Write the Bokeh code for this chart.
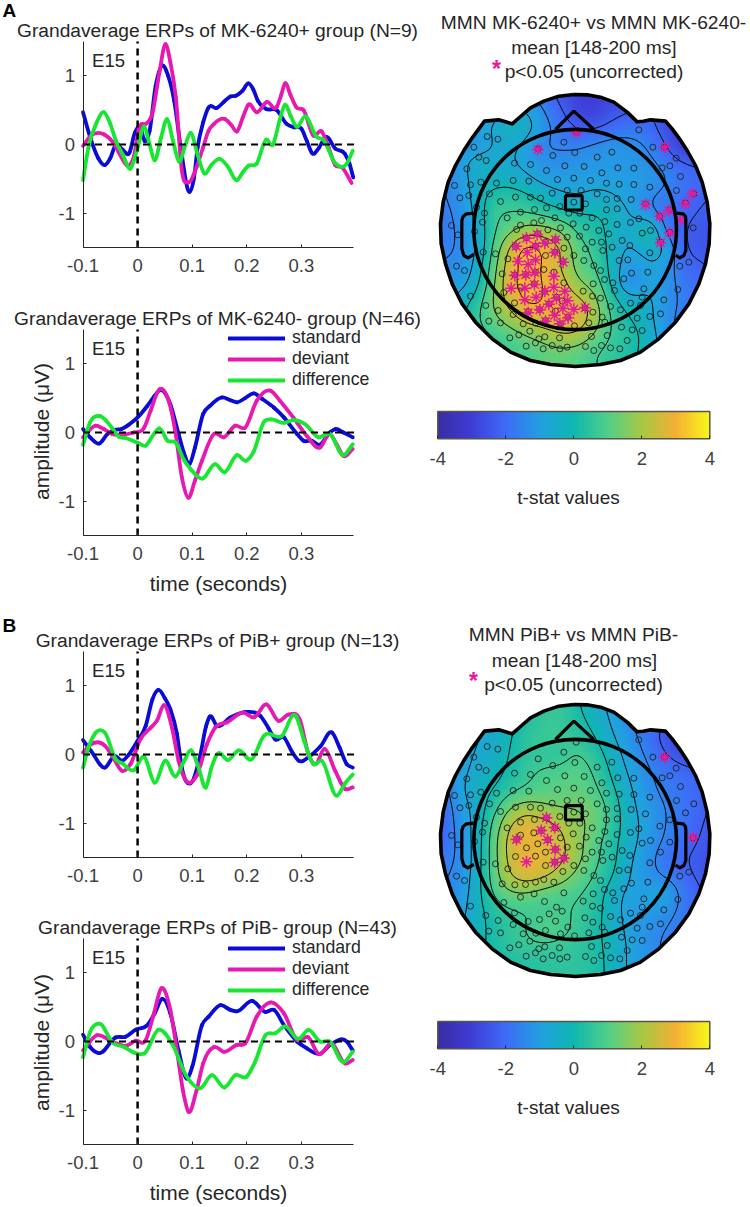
import numpy as np
from bokeh.embed import file_html
from bokeh.resources import INLINE
from bokeh.plotting import figure
from bokeh.layouts import column, row
from bokeh.models import Label, Legend, LegendItem, FixedTicker, LinearColorMapper, Range1d

# ---------- ERP data (time in s, amplitude in uV) ----------
a1_std_t = [-0.1,-0.085,-0.072,-0.06,-0.05,-0.04,-0.028,-0.015,-0.005,0.005,0.013,0.022,0.033,0.045,0.056,0.067,0.08,0.095,0.103,0.11,0.12,0.13,0.145,0.158,0.17,0.18,0.192,0.203,0.212,0.22,0.235,0.255,0.273,0.287,0.3,0.31,0.32,0.332,0.345,0.362,0.38,0.388,0.395]
a1_std_v = [0.47,0.06,-0.2,-0.3,-0.2,0.0,-0.07,-0.12,0.17,0.25,0.05,0.2,0.85,1.15,1.0,0.64,-0.1,-0.69,-0.5,-0.04,0.32,0.54,0.53,0.62,0.7,0.71,0.78,0.89,0.8,0.64,0.52,0.5,0.3,0.25,0.23,0.05,-0.13,-0.05,0.11,-0.06,-0.14,-0.28,-0.48]
a1_dev_t = [-0.1,-0.085,-0.062,-0.045,-0.03,-0.02,-0.007,0.003,0.015,0.027,0.04,0.051,0.06,0.07,0.081,0.093,0.108,0.12,0.13,0.14,0.16,0.172,0.182,0.193,0.203,0.218,0.237,0.255,0.263,0.27,0.28,0.291,0.304,0.322,0.337,0.35,0.362,0.374,0.392]
a1_dev_v = [-0.02,0.13,0.15,0.03,-0.18,-0.3,-0.18,0.25,0.3,0.45,1.05,1.46,1.2,0.69,-0.38,-0.55,-0.33,-0.04,0.2,0.3,0.37,0.28,0.19,0.4,0.58,0.47,0.62,0.55,0.72,0.89,0.72,0.54,0.5,0.13,0.19,-0.05,-0.3,-0.33,-0.56]
a1_dif_t = [-0.1,-0.09,-0.075,-0.062,-0.05,-0.04,-0.027,-0.013,0.0,0.012,0.022,0.031,0.043,0.054,0.065,0.076,0.087,0.097,0.11,0.122,0.135,0.15,0.165,0.182,0.193,0.203,0.218,0.235,0.248,0.26,0.27,0.28,0.291,0.307,0.328,0.34,0.362,0.383,0.394]
a1_dif_v = [-0.52,-0.04,0.32,0.47,0.3,0.06,-0.15,-0.35,-0.05,0.26,0.0,-0.23,0.1,0.37,0.05,-0.25,-0.02,0.17,-0.15,-0.42,-0.3,-0.21,-0.32,-0.52,-0.4,-0.31,-0.28,0.07,0.0,0.35,0.58,0.42,0.26,0.41,0.11,0.07,-0.27,-0.28,-0.09]

a2_std_t = [-0.1,-0.087,-0.07,-0.055,-0.04,-0.03,-0.015,0.0,0.018,0.03,0.042,0.06,0.075,0.085,0.095,0.105,0.12,0.133,0.155,0.17,0.182,0.197,0.213,0.228,0.25,0.268,0.292,0.304,0.319,0.333,0.352,0.362,0.377,0.394]
a2_std_v = [0.05,-0.07,-0.16,-0.02,0.04,0.05,0.12,0.22,0.39,0.52,0.62,0.41,-0.02,-0.3,-0.46,-0.22,0.27,0.39,0.51,0.47,0.44,0.5,0.57,0.49,0.36,0.22,-0.02,-0.12,-0.12,-0.18,0.0,0.05,0.0,-0.07]
a2_dev_t = [-0.1,-0.077,-0.062,-0.047,-0.03,-0.007,0.012,0.024,0.04,0.057,0.069,0.081,0.093,0.105,0.118,0.14,0.158,0.179,0.197,0.218,0.243,0.261,0.285,0.31,0.334,0.352,0.365,0.377,0.394]
a2_dev_v = [-0.07,0.1,0.05,-0.02,-0.03,0.0,0.07,0.32,0.63,0.46,0.02,-0.65,-0.95,-0.7,-0.41,-0.02,-0.07,0.1,0.07,0.46,0.61,0.46,0.22,-0.05,-0.22,-0.02,-0.18,-0.34,-0.24]
a2_dif_t = [-0.1,-0.087,-0.07,-0.047,-0.035,-0.022,0.0,0.015,0.03,0.04,0.055,0.07,0.085,0.097,0.119,0.142,0.159,0.182,0.199,0.213,0.231,0.245,0.268,0.285,0.307,0.331,0.352,0.377,0.394]
a2_dif_v = [-0.18,0.15,0.24,0.07,-0.06,-0.08,-0.15,-0.19,-0.02,0.06,-0.12,-0.15,-0.4,-0.53,-0.67,-0.46,-0.58,-0.33,-0.41,-0.27,0.15,0.19,0.14,0.18,0.12,-0.07,-0.02,-0.33,-0.17]

b1_std_t = [-0.1,-0.085,-0.06,-0.042,-0.028,-0.016,0.0,0.015,0.027,0.038,0.05,0.06,0.072,0.081,0.097,0.115,0.125,0.132,0.145,0.17,0.2,0.225,0.24,0.252,0.268,0.282,0.295,0.316,0.335,0.356,0.37,0.383,0.394]
b1_std_v = [0.21,0.05,-0.19,-0.02,-0.09,0.0,0.2,0.42,0.8,0.94,0.82,0.66,0.3,-0.19,-0.42,0.0,0.4,0.55,0.42,0.54,0.62,0.56,0.38,0.22,0.25,0.05,-0.09,-0.02,0.12,0.32,0.1,-0.14,-0.19]
b1_dev_t = [-0.1,-0.085,-0.06,-0.045,-0.028,-0.013,0.005,0.024,0.036,0.048,0.063,0.075,0.087,0.108,0.127,0.142,0.164,0.194,0.213,0.236,0.258,0.276,0.298,0.313,0.325,0.343,0.362,0.38,0.394]
b1_dev_v = [0.03,0.15,0.13,-0.04,-0.24,-0.14,0.22,0.39,0.5,0.72,0.39,-0.09,-0.36,-0.31,0.15,0.39,0.47,0.61,0.54,0.73,0.49,0.58,0.49,0.0,-0.14,0.08,-0.24,-0.5,-0.48]
b1_dif_t = [-0.1,-0.09,-0.06,-0.04,-0.028,-0.007,0.012,0.031,0.051,0.069,0.085,0.098,0.112,0.125,0.135,0.145,0.166,0.185,0.209,0.231,0.264,0.29,0.305,0.322,0.337,0.365,0.38,0.394]
b1_dif_v = [-0.19,0.1,0.32,-0.07,-0.13,-0.23,-0.03,-0.41,-0.09,-0.32,-0.1,0.06,-0.2,-0.48,-0.2,0.0,-0.08,0.06,-0.07,0.27,0.27,0.56,0.2,-0.14,-0.09,-0.6,-0.42,-0.29]

b2_std_t = [-0.1,-0.087,-0.07,-0.04,-0.022,-0.004,0.018,0.032,0.045,0.06,0.075,0.09,0.1,0.118,0.13,0.152,0.17,0.182,0.21,0.234,0.25,0.268,0.292,0.31,0.333,0.356,0.383,0.394]
b2_std_v = [0.1,-0.08,-0.17,0.06,0.07,0.17,0.24,0.42,0.62,0.41,-0.13,-0.54,-0.37,0.24,0.36,0.53,0.46,0.44,0.59,0.43,0.46,0.24,0.0,-0.1,-0.18,-0.03,0.0,-0.13]
b2_dev_t = [-0.1,-0.075,-0.047,-0.02,-0.004,0.015,0.03,0.043,0.06,0.072,0.083,0.093,0.108,0.12,0.14,0.158,0.182,0.197,0.218,0.244,0.268,0.292,0.313,0.331,0.356,0.38,0.394]
b2_dev_v = [-0.13,0.09,0.0,-0.06,0.01,0.02,0.41,0.77,0.46,-0.13,-0.71,-1.02,-0.71,-0.32,-0.08,-0.15,-0.05,-0.03,0.36,0.57,0.41,0.02,0.06,-0.18,-0.03,-0.32,-0.27]
b2_dif_t = [-0.1,-0.087,-0.07,-0.045,-0.025,-0.004,0.013,0.038,0.063,0.09,0.115,0.136,0.159,0.179,0.2,0.215,0.234,0.252,0.27,0.295,0.313,0.334,0.352,0.377,0.394]
b2_dif_v = [-0.23,0.14,0.26,-0.02,-0.08,-0.17,-0.17,0.17,-0.03,-0.51,-0.68,-0.49,-0.67,-0.49,-0.51,-0.3,0.09,0.12,0.22,0.04,0.17,0.0,0.0,-0.3,-0.15]

x_lim = [-0.1, 0.3963]
y_lim = [-1.5, 1.5]
x_ticks = [-0.1, 0, 0.1, 0.2, 0.3]
y_ticks = [-1, 0, 1]
series_names = ["standard", "deviant", "difference"]
series_colors = ["#0b0bd6", "#e619b0", "#19e632"]
panel_titles = ["Grandaverage ERPs of MK-6240+ group (N=9)", "Grandaverage ERPs of MK-6240- group (N=46)",
                "Grandaverage ERPs of PiB+ group (N=13)", "Grandaverage ERPs of PiB- group (N=43)"]

# ---------- t-stat maps ----------
map_cols = [50,102,154,206,258,310,362,414,466,518,570,622,674,726,778,830,882]
map_rows = [30,82,134,186,238,290,342,394,446,498,550,602,654,706,758,810,862]
tmap_a = [
[-1.5,-1.5,-1.5,-1.5,-1.5,-1.5,-2,-2.5,-3,-3,-2.8,-2.5,-2.5,-2.5,-2.5,-2.5,-2.5],
[-1.5,-1.5,-1.3,-1,-0.8,-0.6,-1.5,-2.2,-3,-3,-2.5,-2.3,-2.2,-2.5,-2.8,-2.5,-2.5],
[-1.5,-1.2,-1,-0.7,-0.2,-0.3,-1.2,-1.8,-2.4,-2.4,-2,-1.8,-2,-2.6,-3.2,-3,-2.5],
[-1.8,-1.5,-1.3,-0.8,-0.5,-1,-1.6,-1.6,-1.6,-1.3,-1.1,-1.2,-1.5,-2.2,-3.3,-3,-2.5],
[-1.6,-1.2,-0.3,-0.5,-0.7,-1,-1.3,-1.3,-1.2,-1.1,-1.2,-1.2,-1.3,-1.7,-2.2,-2.4,-2.4],
[-1.6,-1.3,-0.4,-0.4,-0.3,-0.6,-1,-1,-1,-1,-1,-1,-1,-1.4,-1.8,-2,-2.3],
[-1.6,-1.3,-0.6,0.4,0.5,0.2,-0.3,-0.7,-0.8,-0.5,-0.7,-1,-1.5,-1.7,-1.9,-2.2,-2.3],
[-1.8,-1.4,-0.8,0.7,0.8,0.8,0.6,0.3,0,0.1,-0.2,-0.8,-1.4,-1.8,-2.1,-2.3,-2.4],
[-1.8,-1.5,-0.9,0.6,1.3,2,2,1.6,0.6,0.2,-0.2,-0.7,0.9,-1.8,-2.2,-2.5,-2.6],
[-1.7,-1.5,-1,0.7,2.5,3.6,3.0,2.4,1,0.6,-0.4,-1,-0.4,-0.5,-2.3,-2.4,-2.5],
[-1.4,-1.4,-0.8,1,2.8,3.2,3,2.2,1.1,0.8,-0.4,-1.3,-0.8,-1,-2,-2.2,-2.3],
[-1.2,-1.2,-0.5,1.2,3,3.2,3,2.7,1.5,1.2,-0.3,-1.8,-0.8,-1.2,-1.7,-2,-2.2],
[-0.7,-0.6,0.2,1.5,2.6,3.2,3,2.8,2.6,1.8,0.2,-0.4,-0.5,-1.2,-1.6,-1.9,-2],
[-0.5,-0.2,0.6,1.3,1.9,2.7,2.8,3,2.8,2,0.5,0,-0.5,-1.3,-1.7,-1.9,-2],
[0,0.2,0.4,0.7,1,1.4,1.8,2.2,2.2,1.3,0.6,0.4,-0.3,-1.2,-1.8,-2,-2],
[0,0.2,0.4,0.6,0.7,0.9,1.1,1.2,1,0.7,0.5,0.2,-0.3,-1,-1.6,-1.8,-2],
[0,0.2,0.4,0.6,0.8,1,1.2,1.3,1.1,0.8,0.5,0.2,-0.3,-1,-1.6,-1.8,-2],
]
tmap_b = [
[-1.2,-1.2,-1,-0.8,-0.4,0.1,0.6,0.7,0,-0.5,-1,-1.6,-1.9,-2,-2.2,-2.2,-2.2],
[-1.3,-1.2,-1,-0.6,-0.2,0.3,0.6,0.6,0.2,-0.3,-0.9,-1.5,-1.9,-2.2,-2.6,-2.5,-2.3],
[-1.4,-1.2,-0.8,-0.6,-0.1,0.5,0.7,0.8,0.5,0,-0.7,-1.3,-1.8,-2.6,-3.3,-3,-2.5],
[-1.6,-1.1,-0.7,-0.5,0,0.6,0.4,0.4,0.9,0.4,-0.4,-1.1,-1.6,-2.2,-2.6,-2.6,-2.4],
[-1.8,-1,-0.6,-0.3,0.1,0.6,0.9,1,1.1,0.7,-0.2,-0.9,-1.4,-1.8,-2,-2.2,-2.3],
[-2,-1,-0.3,-0.1,0.5,0.8,1,1.1,1.2,0.9,0.1,-0.7,-1.3,-1.7,-1.8,-2.1,-2.4],
[-2.2,-1.2,-0.6,0.3,1.5,1.9,1.6,1.4,1.5,1.3,0.4,-0.6,-1.1,-1.5,-1.8,-2.1,-2.4],
[-2.3,-1.3,-0.7,0.8,2.3,2.9,2.6,2.2,1.6,1.4,0.4,-0.5,-1,-1.5,-1.8,-2.2,-2.5],
[-2.2,-1.4,-0.7,1,2.7,2.9,2.7,2.5,1.7,1,0.2,-0.5,-1.1,-1.6,-1.9,-2.3,-2.6],
[-1.8,-1.5,-0.7,1,2.6,2.9,2.8,2.5,1.7,0.9,0.2,-0.7,-1.3,-1.9,-2.2,-2.5,-2.7],
[-1.6,-1.4,-0.6,1,2.3,2.8,2.5,1.9,1.2,0.7,0,-0.8,-1.3,-1.6,-2,-2.4,-2.6],
[-1.5,-1.3,-0.5,0.8,1.4,1.4,1,0.9,0.8,0.4,-0.5,-1,-0.9,-0.6,-1.7,-2.2,-2.5],
[-1.4,-1.1,-0.4,0.3,0.6,0.7,0.7,0.8,0.7,0.3,-0.5,-1.1,-1,-1.2,-1.7,-2.2,-2.4],
[-1.2,-1,-0.4,0.2,0.5,0.8,1.1,1,0.6,0.2,-0.4,-1,-1.3,-1.5,-1.8,-2.1,-2.2],
[-1.1,-0.8,-0.3,0.2,0.5,0.7,0.7,0.6,0.5,0.2,-0.3,-0.9,-1.3,-1.6,-1.8,-2,-2.1],
[-1,-0.8,-0.4,0,0.2,0.3,0.4,0.5,0.5,0.3,-0.3,-0.9,-1.3,-1.6,-1.8,-2,-2],
[-1,-0.8,-0.4,0,0.2,0.3,0.4,0.5,0.5,0.3,-0.3,-0.9,-1.3,-1.6,-1.8,-2,-2],
]
contour_levels = [-3, -2.25, -1.5, -0.75, 0, 0.75, 1.5, 2.25, 3]
cbar_ticks = [-4, -2, 0, 2, 4]
cmap_stops_v = [-4, -3, -2, -1, 0, 1, 2, 3, 4]
cmap_stops_rgb = [(58,45,165),(62,62,215),(62,108,248),(34,160,226),(16,184,176),(80,208,138),(168,200,70),(245,176,53),(248,248,26)]

# sensor and outline positions, in units of 1/3 pixel from the head's crop
sensor_x = [467,655,200,232,430,697,732,160,353,463,574,397,175,530,767,197,282,330,433,491,592,640,725,748,378,139,544,780,688,278,325,411,460,510,558,596,640,150,228,102,181,395,440,482,360,285,330,530,558,590,632,675,768,118,145,207,495,460,795,820,240,418,342,300,445,478,558,590,192,378,748,168,515,260,718,655,630,590,553,458,403,363,420,340,300,497,535,93,186,162,288,690,748,112,352,382,318,440,565,477,515,605,665,720,818,285,345,375,405,430,543,628,547,575,495,460,188,403,688,225,375,262,427,490,596,622,805,108,778,132,520,345,540,682,370,400,633,245,283,315,610,552,300,670,341,430,518,577,772,250,372,488,516,408,582,150,540,282,196,233,386,425,570,600,630,665,730,493,660,688,720,650,323,357,405,442,517,545,278,375,205,240,308,505,553,420,346,328,462,603,635,665,268,295,373,417,513,355,560,620,495,317,345,368,395,418,440,520,543,570,598]
sensor_y = [125,118,138,146,155,170,170,170,175,186,185,195,200,200,203,210,218,222,226,228,232,233,232,226,240,235,247,258,290,270,272,267,263,270,278,281,282,283,278,285,275,308,300,300,323,320,320,310,327,324,327,340,300,322,315,310,340,335,337,310,333,348,357,365,368,368,358,355,368,352,358,350,382,382,377,385,396,402,393,400,382,390,412,397,404,410,420,405,395,423,417,420,425,433,430,418,442,440,430,437,455,450,428,455,412,468,467,455,447,473,455,465,480,470,475,495,485,485,487,490,495,505,513,510,510,508,515,527,527,540,525,545,540,545,537,545,548,550,553,552,565,567,590,595,580,577,580,577,597,606,603,602,617,620,600,617,623,637,645,660,640,632,648,658,638,620,628,652,645,678,670,683,663,657,662,680,665,680,672,690,692,697,700,697,695,700,698,722,706,710,718,720,742,733,739,742,738,745,735,750,768,767,757,775,765,775,770,780,765,772,775]
sig_a_x = [467,352,733,815,795,675,745,718,780,748,720,350,318,405,373,345,287,403,320,345,292,323,428,343,316,283,400,342,272,313,400,373,433,347,313,408,441,385,427,460,494,323,358,402,375,443,418]
sig_a_y = [155,207,200,340,370,372,390,407,418,457,487,462,473,478,488,497,497,516,516,538,543,552,545,576,583,585,587,612,623,623,620,632,632,650,658,653,661,671,683,686,682,697,688,704,722,712,730]
sig_b_x = [732,817,378,362,403,288,381,404,430,318,403]
sig_b_y = [170,411,352,390,381,417,418,447,473,484,486]
SENSOR_SHIFT = 30
head_x = [460,500,540,580,620,650,668,690,735,755,775,800,825,845,860,868,866,855,835,805,765,715,660,600,540,465,390,330,270,215,165,125,95,75,62,60,68,83,105,130,155,175,192,235,275,300,330,370,415,460]
head_y = [42,43,50,65,95,124,122,118,122,145,172,210,255,305,365,430,490,550,610,670,725,775,815,840,852,858,852,840,815,775,725,670,610,550,490,430,365,305,255,210,172,145,122,118,130,108,82,62,47,42]
nose_x = [405,460,520]
nose_y = [147,92,147]
ear_l_x = [160,138,128,124,124,130,142,160]
ear_l_y = [398,400,408,420,505,525,532,522]
ear_r_x = [768,788,795,796,796,790,778,765]
ear_r_y = [398,400,408,420,510,525,532,524]
ring_cx, ring_cy, ring_w, ring_h = 464, 447, 608, 601
box_x, box_y, box_w, box_h = 460, 367, 50, 43

FONT = "Liberation Sans"
TXT = "#262626"
TICK = "#404040"
COL_SPLIT = 426  # page x where the left column of figures ends
PAGE_W = 750


def palette256():
    v = np.linspace(-4, 4, 256)
    rgb = [np.interp(v, cmap_stops_v, [c[i] for c in cmap_stops_rgb]) for i in range(3)]
    return ["#%02x%02x%02x" % (int(r), int(g), int(b)) for r, g, b in zip(*rgb)]


PAL = palette256()


def label(p, x, y, text, size, color=TXT, align="center", bold=False, angle=0):
    p.add_layout(Label(x=x, y=y, text=text, text_font=FONT, text_font_size=f"{size}px", text_color=color,
                       text_align=align, text_baseline="middle", text_font_style="bold" if bold else "normal",
                       angle=angle))


def smooth_curve(p, t, v, color):
    t = np.array(t, float)
    v = np.array(v, float)
    m = np.gradient(v, t)
    dt = np.diff(t)
    return p.bezier(x0=t[:-1], y0=v[:-1], x1=t[1:], y1=v[1:],
                    cx0=t[:-1] + dt / 3, cy0=v[:-1] + m[:-1] * dt / 3,
                    cx1=t[1:] - dt / 3, cy1=v[1:] - m[1:] * dt / 3,
                    line_color=color, line_width=3.8, line_cap="round")


def style_axis(ax, ticks, standoff, location, bounds):
    ax.ticker = FixedTicker(ticks=ticks)
    ax.major_label_overrides = {t: str(t) for t in ticks}
    ax.fixed_location = location
    if bounds is not None:
        ax.bounds = tuple(bounds)
    ax.major_tick_in = 3
    ax.major_tick_out = 0
    ax.minor_tick_line_color = None
    ax.axis_line_color = TXT
    ax.major_tick_line_color = TXT
    ax.major_label_text_font = FONT
    ax.major_label_text_font_size = "18.5px"
    ax.major_label_text_color = TICK
    ax.major_label_standoff = standoff


def erp_panel(idx, series, fig_top, fig_bottom, zero_px, legend_top=None, xlabel_y=None, ylabel_y=None, letter=None):
    X0, SX, SY = 82.5, 546.0, 68.67
    W = COL_SPLIT
    px = lambda v: x_lim[0] + (v - X0) / SX
    py = lambda v: (zero_px - v) / SY
    p = figure(width=W, height=fig_bottom - fig_top, output_backend="svg", toolbar_location=None,
               x_range=Range1d(px(0), px(W)), y_range=Range1d(py(fig_bottom), py(fig_top)), min_border=0)
    p.grid.visible = False
    p.outline_line_color = None
    p.background_fill_color = None
    style_axis(p.xaxis[0], x_ticks, 11, y_lim[0], x_lim)
    style_axis(p.yaxis[0], y_ticks, 8, x_lim[0], y_lim)
    rends = [smooth_curve(p, t, v, col) for (t, v), col in zip(series, series_colors)]
    p.line(x_lim, [0, 0], line_color="black", line_width=2, line_dash="7 5")
    p.line([0, 0], y_lim, line_color="black", line_width=2.5, line_dash="7 5")
    label(p, px(217), py(30 if idx == 0 else zero_px - 114), panel_titles[idx], 19.2)
    label(p, px(108), py(zero_px - 84), "E15", 18.5)
    if letter:
        label(p, px(2), py(10 if idx == 0 else 625), letter, 19, color="black", align="left", bold=True)
    if xlabel_y is not None:
        label(p, px(218), py(xlabel_y), "time (seconds)", 21)
    if ylabel_y is not None:
        label(p, px(41), py(ylabel_y), "amplitude (\u03bcV)", 21, angle=np.pi / 2)
    if legend_top is not None:
        items = [LegendItem(label=n, renderers=[r]) for n, r in zip(series_names, rends)]
        leg = Legend(items=items, location=(228, fig_bottom - legend_top - 60), glyph_width=57, glyph_height=20,
                     label_height=20, label_standoff=7, spacing=0, padding=0, margin=0,
                     background_fill_alpha=0, border_line_color=None,
                     label_text_font=FONT, label_text_font_size="17.7px", label_text_color=TXT)
        p.add_layout(leg)
    return p


def upsample(table, n=10):
    z = np.repeat(np.repeat(np.array(table, float), n, axis=0), n, axis=1)
    for _ in range(3):
        for axis in (0, 1):
            pad = [(0, 0), (0, 0)]
            pad[axis] = (n // 2, n // 2)
            zz = np.pad(z, pad, mode="edge")
            z = np.apply_along_axis(lambda m: np.convolve(m, np.ones(n) / n, mode="valid")[:z.shape[axis]], axis, zz)
    return z


def head_panel(tmap, sig_x, sig_y, sig_shift, lines, star_px, star_py):
    zx = lambda v: (v - 420) * 3
    zy = lambda v: -(v - 80) * 3
    x0, x1, y0, y1 = zx(COL_SPLIT), zx(PAGE_W), zy(395), zy(0)
    p = figure(width=PAGE_W - COL_SPLIT, height=395, output_backend="svg", toolbar_location=None,
               x_range=Range1d(x0, x1), y_range=Range1d(y0, y1), x_axis_location=None, y_axis_location=None,
               min_border=0)
    p.grid.visible = False
    p.outline_line_color = None
    step = map_cols[1] - map_cols[0]
    z = upsample(tmap)[::-1]
    n = z.shape[0]
    gx = map_cols[0] - step / 2 + (np.arange(n) + 0.5) * step / 10
    gy = -(map_rows[0] - step / 2 + (np.arange(n) + 0.5) * step / 10)[::-1]
    p.image(image=[z], x=gx[0], y=gy[0], dw=gx[-1] - gx[0], dh=gy[-1] - gy[0],
            color_mapper=LinearColorMapper(palette=PAL, low=-4, high=4))
    X, Y = np.meshgrid(gx, gy)
    p.contour(X, Y, z, levels=contour_levels, line_color="black", line_width=1)
    hy = [-v for v in head_y]
    p.multi_polygons(xs=[[[[x0, x1, x1, x0], head_x]]], ys=[[[[y0, y0, y1, y1], hy]]],
                     fill_color="white", line_color=None)
    sx = sensor_x
    sy = [-(v + SENSOR_SHIFT) for v in sensor_y]
    p.scatter(sx, sy, marker="circle", size=6, fill_color=None, line_color="#202020", line_width=0.9)
    p.scatter(sig_x, [-(v + sig_shift) for v in sig_y], marker="asterisk", size=12, line_color="#e6199b", line_width=1.5)
    p.ellipse([ring_cx], [-ring_cy], width=ring_w, height=ring_h, fill_color=None, line_color="black", line_width=3.6)
    p.line(head_x, hy, line_color="black", line_width=3.6, line_join="round")
    p.line(nose_x, [-v for v in nose_y], line_color="black", line_width=3.2)
    p.line(ear_l_x, [-v for v in ear_l_y], line_color="black", line_width=3.2, line_join="round")
    p.line(ear_r_x, [-v for v in ear_r_y], line_color="black", line_width=3.2, line_join="round")
    p.rect([box_x], [-box_y], width=box_w, height=box_h, fill_color=None, line_color="black", line_width=3.2)
    for (txt, py, cx) in lines:
        label(p, zx(cx), zy(py), txt, 19.2)
    label(p, zx(star_px), zy(star_py), "*", 23, color="#e6199b", bold=True)
    return p


def cbar_panel(top_px, bottom_px):
    # frame spans the whole column; the data range is chosen so that -4..4 falls on the bar
    SX, SY = 34.0, 27.3
    bar_top, bar_left = top_px + 16, 437.3
    h = bottom_px - top_px
    dx = lambda v: -4 + (v - bar_left) / SX
    dy = lambda v: 1 - (v - bar_top) / SY
    p = figure(width=PAGE_W - COL_SPLIT, height=h, output_backend="svg", toolbar_location=None,
               x_range=Range1d(dx(COL_SPLIT), dx(PAGE_W)), y_range=Range1d(dy(bottom_px), dy(top_px)),
               y_axis_location=None, min_border=0)
    p.grid.visible = False
    p.outline_line_color = None
    p.image(image=[np.linspace(-4, 4, 256).reshape(1, -1)], x=-4, y=0, dw=8, dh=1,
            color_mapper=LinearColorMapper(palette=PAL, low=-4, high=4))
    p.quad(left=[-4], right=[4], bottom=[0], top=[1], fill_color=None, line_color="#55554a", line_width=1.5)
    ax = p.xaxis[0]
    style_axis(ax, cbar_ticks, 13, 0, None)
    ax.axis_line_color = None
    label(p, dx(568), dy(bar_top + 86), "t-stat values", 19)
    return p


p1 = erp_panel(0, [(a1_std_t, a1_std_v), (a1_dev_t, a1_dev_v), (a1_dif_t, a1_dif_v)], 0, 290, 144, letter="A")
p2 = erp_panel(1, [(a2_std_t, a2_std_v), (a2_dev_t, a2_dev_v), (a2_dif_t, a2_dif_v)], 290, 605, 432,
               legend_top=330, xlabel_y=583, ylabel_y=431)
p3 = erp_panel(2, [(b1_std_t, b1_std_v), (b1_dev_t, b1_dev_v), (b1_dif_t, b1_dif_v)], 605, 900, 754, letter="B")
p4 = erp_panel(3, [(b2_std_t, b2_std_v), (b2_dev_t, b2_dev_v), (b2_dif_t, b2_dif_v)], 900, 1207, 1041,
               legend_top=940, xlabel_y=1192, ylabel_y=1042)

h1 = head_panel(tmap_a, sig_a_x, sig_a_y, 0,
                [("MMN MK-6240+ vs MMN MK-6240-", 22, 593), ("mean [148-200 ms]", 47, 593.5), ("p<0.05 (uncorrected)", 71, 593.5)],
                496, 68)
h2 = head_panel(tmap_b, sig_b_x, sig_b_y, 30,
                [("MMN PiB+ vs MMN PiB-", 24, 573), ("mean [148-200 ms]", 50, 574), ("p<0.05 (uncorrected)", 74, 573)],
                473, 70)
c1 = cbar_panel(395, 610)
c2 = cbar_panel(1005, 1207)

layout = row(column(p1, p2, p3, p4), column(h1, c1, h2, c2))
open("out.html", "w").write(file_html(layout, INLINE))
